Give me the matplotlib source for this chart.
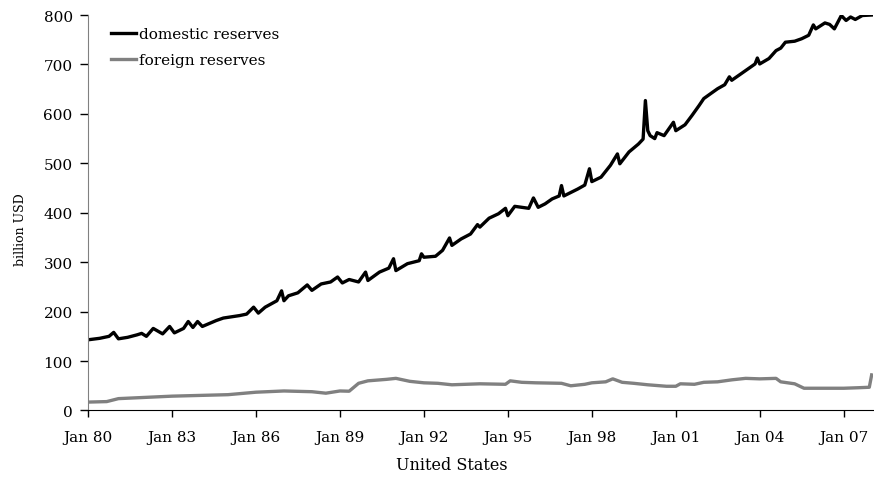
import pandas as pd
import matplotlib
matplotlib.use("Agg")
import matplotlib.pyplot as plt
import matplotlib.dates as mdates

# monthly points (billion USD)
dom_months = ["1980-01", "1980-06", "1980-10", "1980-12", "1981-02", "1981-06", "1981-10", "1981-12",
              "1982-02", "1982-05", "1982-09", "1982-12", "1983-02", "1983-06", "1983-08", "1983-10",
              "1983-12", "1984-02", "1984-08", "1984-11", "1985-06", "1985-09", "1985-12", "1986-02",
              "1986-05", "1986-10", "1986-12", "1987-01", "1987-03", "1987-07", "1987-11", "1988-01",
              "1988-05", "1988-09", "1988-12", "1989-02", "1989-05", "1989-09", "1989-12", "1990-01",
              "1990-06", "1990-10", "1990-12", "1991-01", "1991-06", "1991-11", "1991-12", "1992-01",
              "1992-06", "1992-09", "1992-12", "1993-01", "1993-05", "1993-09", "1993-12", "1994-01",
              "1994-05", "1994-09", "1994-12", "1995-01", "1995-04", "1995-10", "1995-12", "1996-02",
              "1996-05", "1996-08", "1996-11", "1996-12", "1997-01", "1997-07", "1997-10", "1997-12",
              "1998-01", "1998-05", "1998-09", "1998-12", "1999-01", "1999-05", "1999-09", "1999-11",
              "1999-12", "2000-01", "2000-02", "2000-04", "2000-05", "2000-08", "2000-12", "2001-01",
              "2001-05", "2001-08", "2001-11", "2002-01", "2002-04", "2002-07", "2002-10", "2002-12",
              "2003-01", "2003-05", "2003-08", "2003-11", "2003-12", "2004-01", "2004-05", "2004-08",
              "2004-10", "2004-12", "2005-04", "2005-07", "2005-10", "2005-12", "2006-01", "2006-05",
              "2006-07", "2006-09", "2006-12", "2007-02", "2007-04", "2007-06", "2007-09", "2008-01"]
dom_values = [143, 146, 150, 158, 145, 148, 153, 156,
              150, 166, 155, 170, 157, 166, 180, 168,
              180, 170, 182, 187, 192, 195, 209, 197,
              209, 222, 242, 222, 232, 238, 254, 243,
              256, 260, 270, 258, 265, 260, 280, 263,
              280, 288, 307, 283, 297, 303, 317, 310,
              312, 324, 349, 334, 347, 357, 376, 371,
              389, 398, 409, 394, 413, 409, 430, 411,
              418, 428, 434, 455, 434, 448, 456, 489,
              463, 472, 496, 519, 499, 523, 539, 549,
              627, 566, 556, 550, 562, 556, 583, 566,
              578, 597, 617, 631, 641, 651, 659, 675,
              668, 681, 691, 701, 713, 701, 712, 728,
              733, 745, 747, 752, 759, 780, 772, 784,
              781, 772, 799, 789, 796, 791, 799, 800]

for_months = ["1980-01", "1980-09", "1981-02", "1983-01", "1985-01", "1986-01", "1987-01", "1988-01",
              "1988-07", "1989-01", "1989-05", "1989-09", "1990-01", "1990-09", "1991-01", "1991-07",
              "1992-01", "1992-07", "1993-01", "1994-01", "1994-12", "1995-02", "1995-07", "1996-01",
              "1996-12", "1997-04", "1997-10", "1998-01", "1998-07", "1998-10", "1999-02", "1999-07",
              "2000-01", "2000-09", "2001-01", "2001-03", "2001-09", "2002-01", "2002-07", "2003-01",
              "2003-07", "2004-01", "2004-08", "2004-10", "2005-04", "2005-08", "2006-01", "2006-07",
              "2007-01", "2007-07", "2007-12", "2008-01"]
for_values = [17, 18, 24, 29, 32, 37, 39.5, 38,
              35, 39.5, 39, 55, 60, 63, 65, 59,
              56, 55, 52, 54, 53, 60, 57, 56,
              55, 50, 53, 56, 58, 64, 57, 55,
              52, 49, 49, 54, 53, 57, 58, 62,
              65, 64, 65, 58, 54, 45, 45, 45,
              45, 46, 47, 72]

tick_years = list(range(1980, 2008, 3))

plt.rcParams['font.family'] = ['DejaVu Serif']

fig = plt.figure(figsize=(8.74, 4.81), dpi=100)
ax = fig.add_axes([0.1007, 0.1445, 0.8983, 0.8222])

ax.plot(pd.to_datetime(dom_months), dom_values, color="black", lw=2.4, label="domestic reserves")
ax.plot(pd.to_datetime(for_months), for_values, color="#808080", lw=2.4, label="foreign reserves")

ax.set_ylim(0, 800)
ax.set_yticks(range(0, 801, 100))
ax.set_xlim(pd.Timestamp("1980-01-01"), pd.Timestamp("2008-01-20"))
ax.set_xticks([pd.Timestamp(f"{y}-01-01") for y in tick_years])
ax.xaxis.set_major_formatter(mdates.DateFormatter("%b %y"))

# style
ax.spines["top"].set_visible(False)
ax.spines["right"].set_visible(False)
ax.spines["left"].set_color("#808080")
ax.spines["bottom"].set_color("black")
ax.tick_params(axis="x", direction="out", length=5, width=1, pad=9, labelsize=11)
ax.tick_params(axis="y", direction="out", length=6, width=1, pad=5, labelsize=11)

ax.set_xlabel("United States", fontsize=11.5)
ax.xaxis.set_label_coords(0.464, -0.115)
ax.set_ylabel("billion USD", fontsize=9)
ax.yaxis.set_label_coords(-0.078, 0.459)

ax.legend(loc="upper left", bbox_to_anchor=(0.022, 0.985), frameon=False, fontsize=11,
          handlelength=1.6, handletextpad=0.2, labelspacing=0.78, borderaxespad=0)

fig.savefig("out.png", dpi=100)
